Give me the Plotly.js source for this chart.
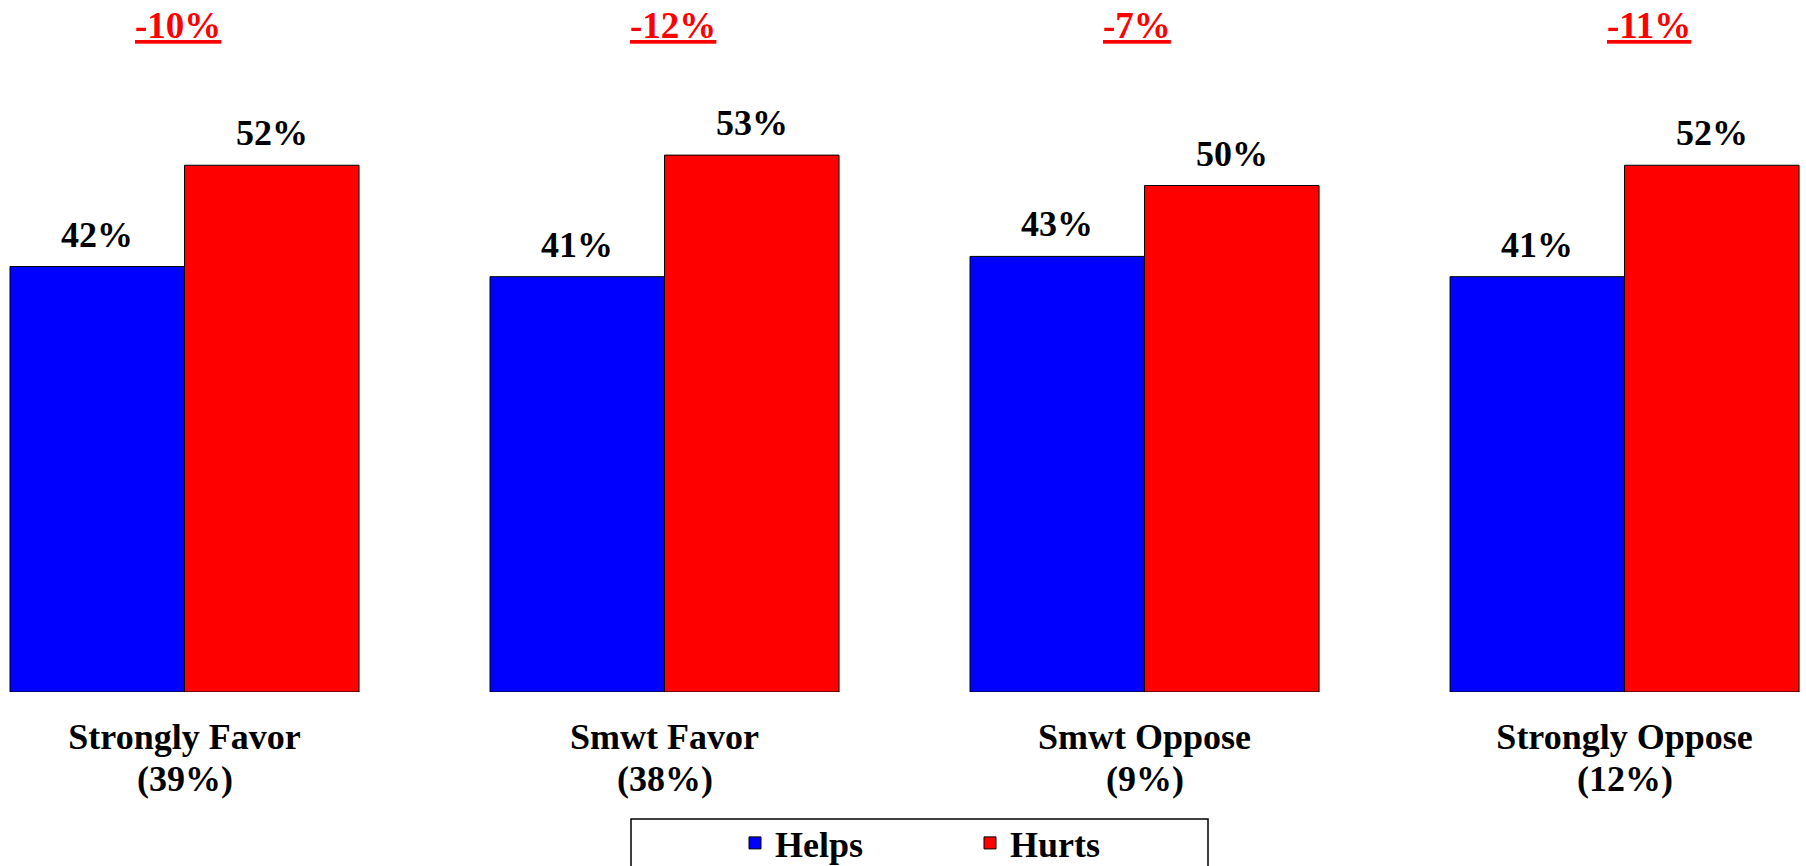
<!DOCTYPE html>
<html>
<head>
<meta charset="utf-8">
<script src="https://cdn.plot.ly/plotly-3.0.1.min.js"></script>
<style>
  html, body { margin: 0; padding: 0; background: #ffffff; }
  #chart { width: 1806px; height: 866px; }
</style>
</head>
<body>
<div id="chart"></div>
<script>
// ---- data ----
const categories = ['Strongly Favor', 'Smwt Favor', 'Smwt Oppose', 'Strongly Oppose'];
const groupShares = ['(39%)', '(38%)', '(9%)', '(12%)'];
const seriesNames = ['Helps', 'Hurts'];
const helps = [42, 41, 43, 41];
const hurts = [52, 53, 50, 52];
const netLabels = ['-10%', '-12%', '-7%', '-11%'];

// ---- styling / layout constants ----
const FONT = '"Liberation Serif", "Times New Roman", Times, serif';
const BLUE = '#0000FF';
const RED = '#FF0000';
const BARGAP = 0.2729;
const barOffset = (1 - BARGAP) / 4;     // centre offset of each bar inside its group
const netShiftPx = [-7, 8, -8, 24];      // the net labels sit slightly off-centre in the original
const W = 1806, H = 866, MB = 174;
const plotH = H - MB;
const legendTop = 813;

const traces = [
  {
    type: 'bar', name: seriesNames[0], x: categories, y: helps,
    marker: { color: BLUE, line: { color: '#000000', width: 1 } },
    hoverinfo: 'skip'
  },
  {
    type: 'bar', name: seriesNames[1], x: categories, y: hurts,
    marker: { color: RED, line: { color: '#000000', width: 1 } },
    hoverinfo: 'skip'
  }
];

const annotations = [];
const valFont = { family: FONT, size: 36, color: '#000000', weight: 'bold' };
helps.forEach((v, i) => annotations.push({
  x: i - barOffset, y: v, xref: 'x', yref: 'y', text: v + '%',
  showarrow: false, yanchor: 'bottom', xanchor: 'center', yshift: 10, font: valFont
}));
hurts.forEach((v, i) => annotations.push({
  x: i + barOffset, y: v, xref: 'x', yref: 'y', text: v + '%',
  showarrow: false, yanchor: 'bottom', xanchor: 'center', yshift: 10, font: valFont
}));
netLabels.forEach((t, i) => annotations.push({
  x: i, y: 1, xref: 'x', yref: 'paper', text: '<u>' + t + '</u>',
  showarrow: false, yanchor: 'top', xanchor: 'center', yshift: -3, xshift: netShiftPx[i],
  font: { family: FONT, size: 37, color: RED, weight: 'bold' }
}));
groupShares.forEach((t, i) => annotations.push({
  x: i, y: 0, xref: 'x', yref: 'paper', text: t,
  showarrow: false, yanchor: 'top', xanchor: 'center', yshift: -65,
  font: valFont
}));

const layout = {
  width: W, height: H,
  margin: { l: 0, r: 0, t: 0, b: MB, pad: 0, autoexpand: false },
  paper_bgcolor: '#ffffff', plot_bgcolor: '#ffffff',
  barmode: 'group', bargap: BARGAP, bargroupgap: 0,
  font: { family: FONT, color: '#000000' },
  xaxis: {
    type: 'category', range: [-0.3844, 3.378],
    showgrid: false, zeroline: false, showline: false,
    ticks: 'outside', ticklen: 13, tickcolor: 'rgba(0,0,0,0)',
    tickfont: { family: FONT, size: 36, color: '#000000', weight: 'bold' },
    fixedrange: true
  },
  yaxis: {
    range: [0, plotH / 10.13],
    showgrid: false, zeroline: false, showline: false, showticklabels: false, ticks: '',
    fixedrange: true
  },
  showlegend: true,
  legend: {
    orientation: 'h', x: 735 / W, xanchor: 'left', y: (plotH - legendTop) / plotH, yanchor: 'top',
    bgcolor: 'rgba(0,0,0,0)', borderwidth: 0, entrywidth: 190, traceorder: 'normal',
    font: { family: FONT, size: 36, color: '#000000', weight: 'bold' }
  },
  shapes: [{
    type: 'rect', xref: 'paper', yref: 'paper',
    x0: 631 / W, x1: 1208 / W, y0: (plotH - 819) / plotH, y1: (plotH - 900) / plotH,
    line: { color: '#000000', width: 1.5 }, fillcolor: 'rgba(0,0,0,0)', layer: 'above'
  }],
  annotations: annotations
};

Plotly.newPlot('chart', traces, layout, { displayModeBar: false, staticPlot: true });
</script>
</body>
</html>
